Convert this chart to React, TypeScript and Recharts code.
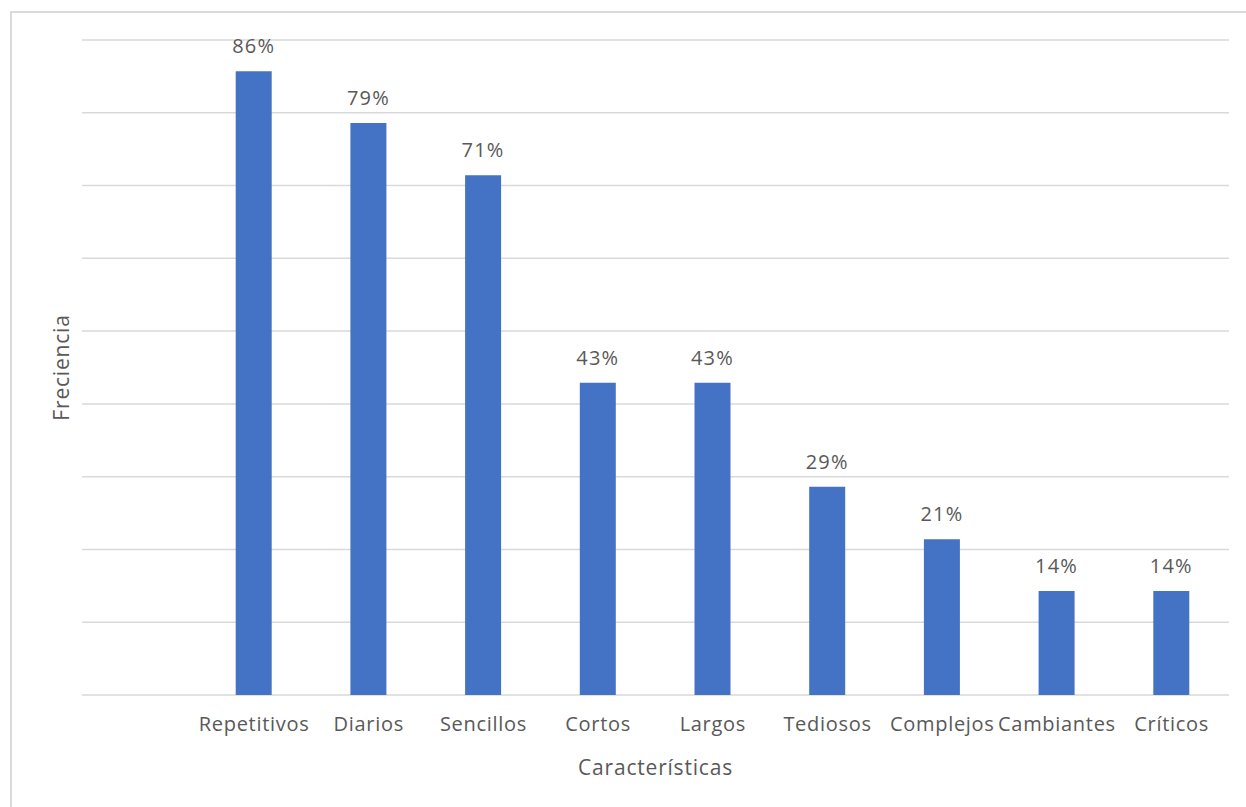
import { BarChart, Bar, XAxis, YAxis, CartesianGrid, LabelList } from "recharts";

const categories = [
  "",
  "Repetitivos",
  "Diarios",
  "Sencillos",
  "Cortos",
  "Largos",
  "Tediosos",
  "Complejos",
  "Cambiantes",
  "Críticos",
];
const frequencies: (number | null)[] = [null, 85.7, 78.6, 71.4, 42.9, 42.9, 28.6, 21.4, 14.3, 14.3];
const yTicks = [0, 10, 20, 30, 40, 50, 60, 70, 80, 90];

const data = categories.map((c, i) => ({ cat: c, value: frequencies[i] }));

const TEXT = "#595959";
const FONT = "'Open Sans', 'Noto Sans', sans-serif";

export default function App() {
  return (
    <div
      style={{
        position: "absolute",
        left: 0,
        top: 0,
        width: 1246,
        height: 807,
        overflow: "hidden",
        background: "#fff",
        fontFamily: FONT,
      }}
    >
      <div
        style={{
          position: "absolute",
          left: 10,
          top: 11,
          width: 1300,
          height: 900,
          border: "2px solid #dadada",
        }}
      />
      <div style={{ position: "absolute", left: 0, top: 0 }}>
        <BarChart
          width={1246}
          height={807}
          data={data}
          margin={{ top: 40, right: 17, bottom: 32, left: 0 }}
          barCategoryGap={0}
        >
          <CartesianGrid vertical={false} stroke="#d9d9d9" strokeWidth={1.5} />
          <XAxis
            dataKey="cat"
            height={80}
            axisLine={false}
            tickLine={false}
            interval={0}
            tickMargin={16}
            tick={{ fill: TEXT, fontSize: 20, fontFamily: FONT, letterSpacing: 0.7 }}
            label={{
              value: "Características",
              position: "insideBottom",
              offset: 0,
              fill: TEXT,
              fontSize: 21,
              fontFamily: FONT,
              style: { letterSpacing: 0.8 },
            }}
          />
          <YAxis
            width={82}
            domain={[0, 90]}
            ticks={yTicks}
            tick={() => <g />}
            axisLine={false}
            tickLine={false}
            label={{
              value: "Freciencia",
              angle: -90,
              position: "insideLeft",
              offset: 62,
              fill: TEXT,
              fontSize: 21,
              fontFamily: FONT,
              style: { textAnchor: "middle", letterSpacing: 0.8 },
            }}
          />
          <Bar dataKey="value" fill="#4472C4" barSize={36} isAnimationActive={false}>
            <LabelList
              dataKey="value"
              position="top"
              offset={18}
              fill={TEXT}
              fontSize={20}
              fontFamily={FONT}
              style={{ letterSpacing: 1.2 }}
              formatter={(v: any) => (v == null ? "" : `${Math.round(v)}%`)}
            />
          </Bar>
        </BarChart>
      </div>
    </div>
  );
}
